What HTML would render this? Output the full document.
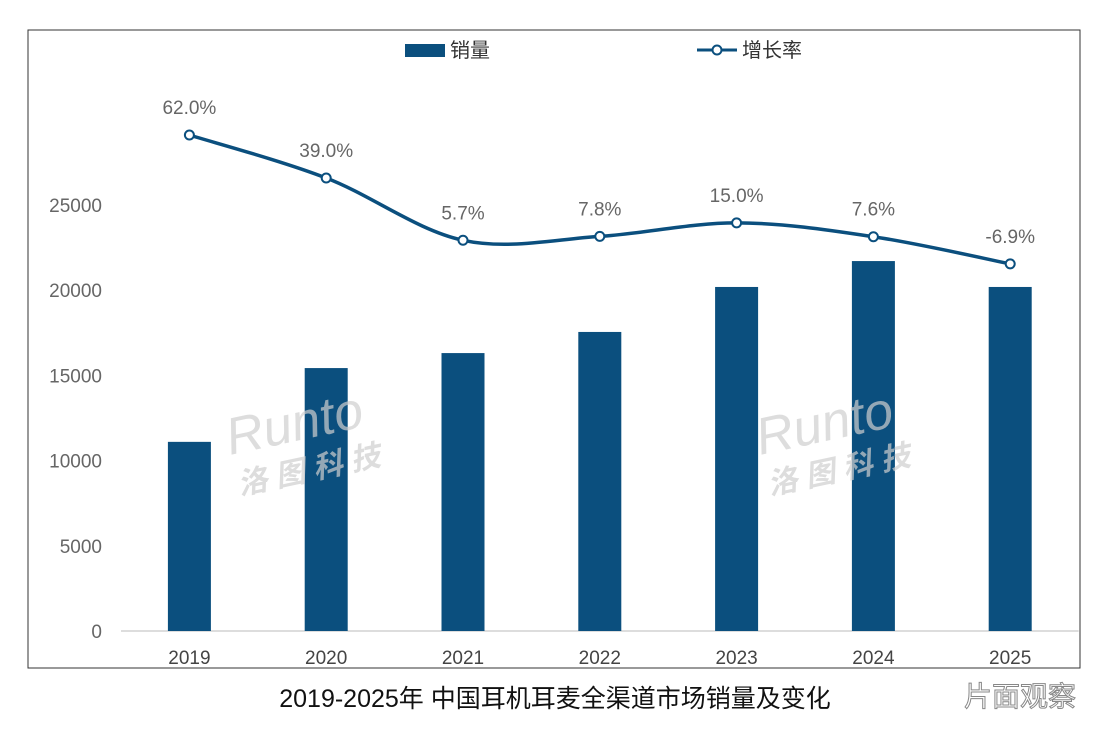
<!DOCTYPE html>
<html><head><meta charset="utf-8"><style>
html,body{margin:0;padding:0;background:#fff;width:1110px;height:735px;overflow:hidden}
svg{display:block;font-family:"Liberation Sans","Noto Sans CJK SC",sans-serif}
</style></head><body>
<svg id="chart" width="1110" height="735">
<rect x="28" y="30" width="1052" height="638" fill="#fff" stroke="#333" stroke-width="1"/>
<g id="axes"></g>
<g id="bars"></g>
<g id="wm" fill="#cfcfcf" fill-opacity="0.7" font-style="italic">
<text x="230" y="455" font-size="52" transform="rotate(-12 230 455)">Runto</text>
<text x="240" y="495" font-size="30" font-weight="bold" transform="rotate(-12 240 495)">洛 图 科 技</text>
<text x="760" y="455" font-size="52" transform="rotate(-12 760 455)">Runto</text>
<text x="770" y="495" font-size="30" font-weight="bold" transform="rotate(-12 770 495)">洛 图 科 技</text>
</g>
<g id="line"></g>
<g>
<rect x="405" y="44" width="40" height="13" fill="#0b4f7e"/>
<text x="450" y="57" font-size="20" fill="#333">销量</text>
<line x1="697" y1="50" x2="737" y2="50" stroke="#0b4f7e" stroke-width="3"/>
<circle cx="717" cy="50" r="4.5" fill="#fff" stroke="#0b4f7e" stroke-width="2"/>
<text x="742" y="57" font-size="20" fill="#333">增长率</text>
</g>
<text x="555" y="707" font-size="25" text-anchor="middle" fill="#111">2019-2025年 中国耳机耳麦全渠道市场销量及变化</text>
<text x="1020" y="706" font-size="28" text-anchor="middle" fill="#fff" stroke="#888" stroke-width="1">片面观察</text>
</svg>
<script>
const categories=["2019","2020","2021","2022","2023","2024","2025"];
const sales=[11100,15430,16310,17550,20190,21710,20190];
const growth=[62.0,39.0,5.7,7.8,15.0,7.6,-6.9];
const growthLabels=["62.0%","39.0%","5.7%","7.8%","15.0%","7.6%","-6.9%"];
const yTicks=[0,5000,10000,15000,20000,25000];
const NS="http://www.w3.org/2000/svg";
const y=v=>631-v*85.2/5000;
const y2=v=>135+(62-v)*1.87;
const x0=121,step=136.8;
const x=i=>x0+step*(i+0.5);
function mk(t,a,p){const e=document.createElementNS(NS,t);for(const k in a)e.setAttribute(k,a[k]);p.appendChild(e);return e;}
const ax=document.getElementById('axes');
yTicks.forEach(v=>{const t=mk('text',{x:102,y:y(v)+7,'font-size':19,'text-anchor':'end',fill:'#666'},ax);t.textContent=v;

});
const base=mk('line',{x1:x0,x2:x0+step*7,y1:631,y2:631,stroke:'#bbb'},ax);


categories.forEach((c,i)=>{const t=mk('text',{x:x(i),y:664,'font-size':19,'text-anchor':'middle',fill:'#444'},ax);t.textContent=c;

});
const bg=document.getElementById('bars');
sales.forEach((v,i)=>{const r=mk('rect',{x:x(i)-21.5,y:y(v),width:43,height:631-y(v),fill:'#0b4f7e'},bg);

});
const lg=document.getElementById('line');
const pts=growth.map((v,i)=>[x(i),y2(v)]);
let d='M'+pts[0][0]+','+pts[0][1];
for(let i=0;i<pts.length-1;i++){const p0=pts[i-1]||pts[i],p1=pts[i],p2=pts[i+1],p3=pts[i+2]||p2;
d+=' C'+(p1[0]+(p2[0]-p0[0])/6)+','+(p1[1]+(p2[1]-p0[1])/6)+' '+(p2[0]-(p3[0]-p1[0])/6)+','+(p2[1]-(p3[1]-p1[1])/6)+' '+p2[0]+','+p2[1];}
const path=mk('path',{d:d,fill:'none',stroke:'#0b4f7e','stroke-width':3.5},lg);


pts.forEach((p,i)=>{const c=mk('circle',{cx:p[0],cy:p[1],r:4.5,fill:'#fff',stroke:'#0b4f7e','stroke-width':2},lg);


const t=mk('text',{x:p[0],y:p[1]-21,'font-size':19,'text-anchor':'middle',fill:'#666'},lg);t.textContent=growthLabels[i];

});
</script>
</body></html>
